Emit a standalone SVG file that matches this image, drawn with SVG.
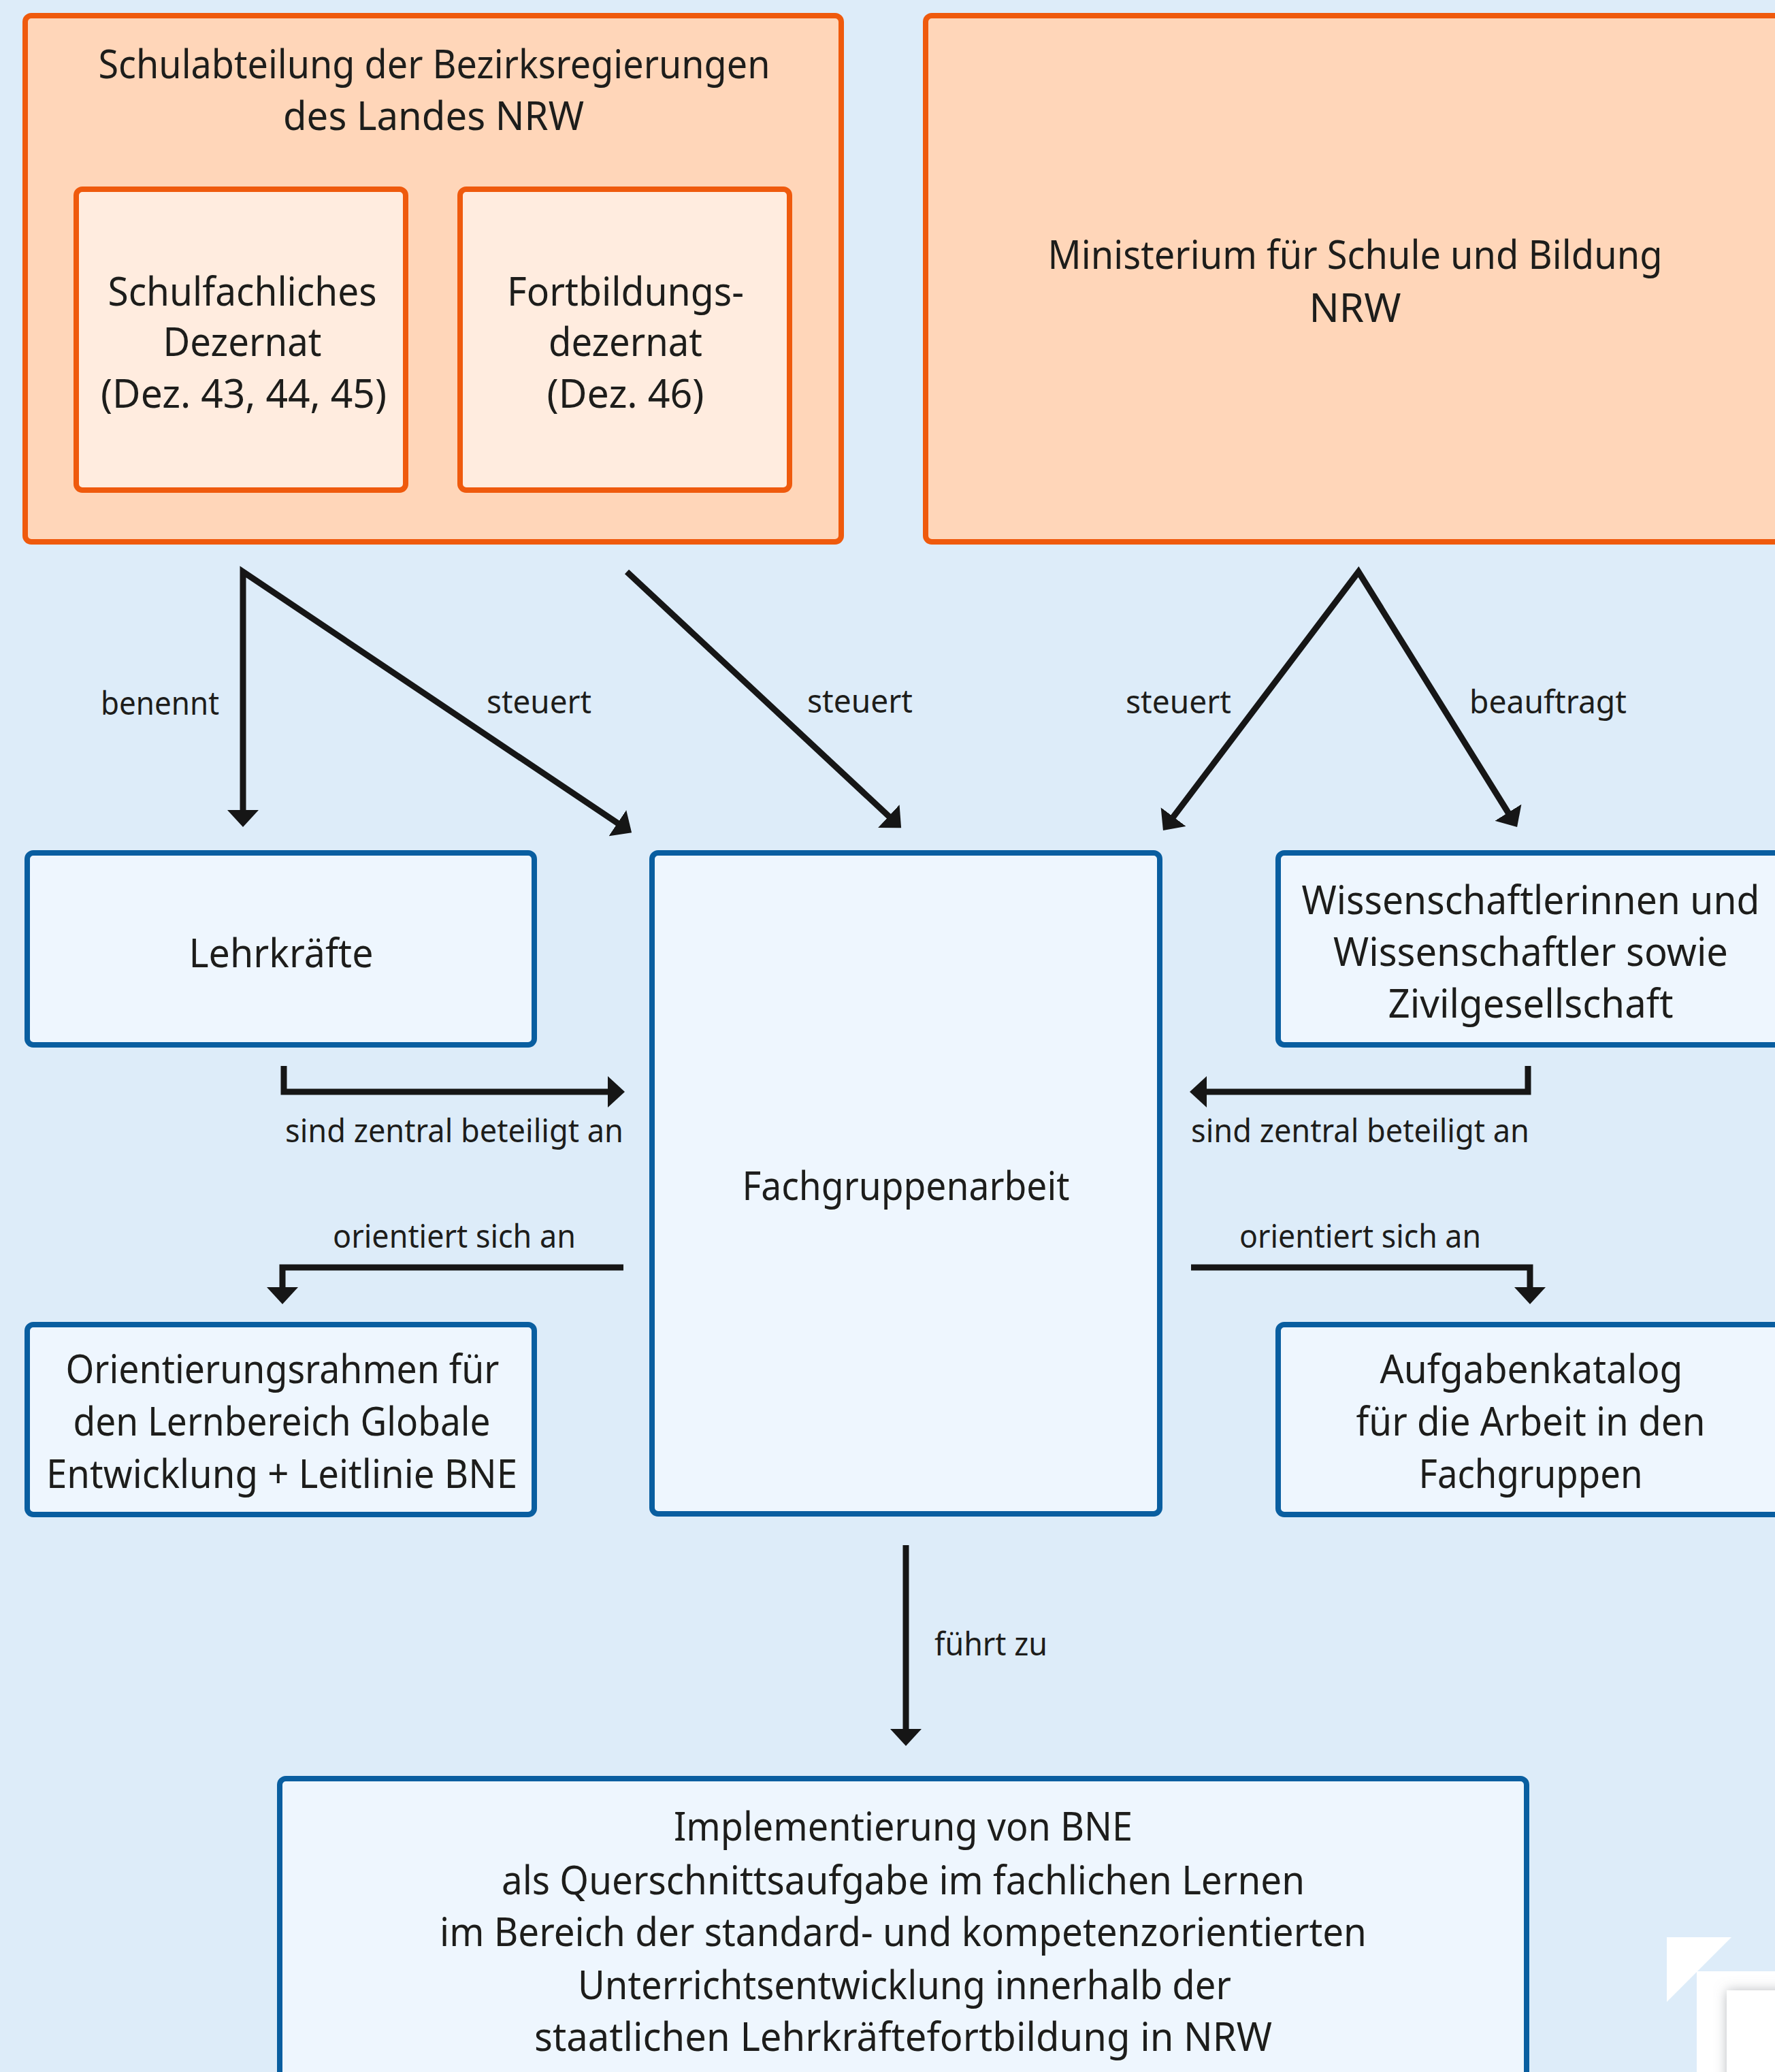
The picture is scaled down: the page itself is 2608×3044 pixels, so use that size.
<svg xmlns="http://www.w3.org/2000/svg" width="2608" height="3044" viewBox="0 0 2608 3044">
<style>
.bg{fill:#ddecf9}
.org{fill:#ffd6b9;stroke:#ef5a0d;stroke-width:8}
.orgi{fill:#ffecdf;stroke:#ef5a0d;stroke-width:8}
.blu{fill:#eef6fe;stroke:#095ea0;stroke-width:8}
.t{font-family:"Noto Sans","Liberation Sans",sans-serif;font-size:58px;fill:#1d1d1b;text-anchor:middle}
.l{font-family:"Noto Sans","Liberation Sans",sans-serif;font-size:47px;fill:#1d1d1b}
.c{fill:none;stroke:#161616;stroke-width:9;stroke-linejoin:miter}
</style>
<defs>
<marker id="ah" viewBox="0 0 25 46" refX="5" refY="23" markerWidth="25" markerHeight="46" markerUnits="userSpaceOnUse" orient="auto-start-reverse">
<path d="M0,0 L25,23 L0,46 Z" fill="#161616"/>
</marker>
<filter id="sh" x="-20%" y="-20%" width="140%" height="140%">
<feDropShadow dx="0" dy="0" stdDeviation="9" flood-color="#8a8f96" flood-opacity="0.6"/>
</filter>
</defs>
<rect class="bg" x="0" y="0" width="2608" height="3044"/>

<g id="schulabteilung">
<rect class="org" x="37" y="23" width="1199" height="773" rx="9"/>
<text class="t" x="638" y="115" textLength="987" lengthAdjust="spacingAndGlyphs">Schulabteilung der Bezirksregierungen</text>
<text class="t" x="637" y="191" textLength="442" lengthAdjust="spacingAndGlyphs">des Landes NRW</text>
</g>
<g id="schulfachliches-dezernat">
<rect class="orgi" x="112" y="278" width="484" height="442" rx="9"/>
<text class="t" x="356" y="449" textLength="395" lengthAdjust="spacingAndGlyphs">Schulfachliches</text>
<text class="t" x="356" y="523" textLength="233" lengthAdjust="spacingAndGlyphs">Dezernat</text>
<text class="t" x="358" y="599" textLength="420" lengthAdjust="spacingAndGlyphs">(Dez. 43, 44, 45)</text>
</g>
<g id="fortbildungsdezernat">
<rect class="orgi" x="676" y="278" width="484" height="442" rx="9"/>
<text class="t" x="919" y="449" textLength="348" lengthAdjust="spacingAndGlyphs">Fortbildungs-</text>
<text class="t" x="919" y="523" textLength="226" lengthAdjust="spacingAndGlyphs">dezernat</text>
<text class="t" x="919" y="599" textLength="231" lengthAdjust="spacingAndGlyphs">(Dez. 46)</text>
</g>
<g id="ministerium">
<rect class="org" x="1360" y="23" width="1260" height="773" rx="9"/>
<text class="t" x="1991" y="395" textLength="903" lengthAdjust="spacingAndGlyphs">Ministerium für Schule und Bildung</text>
<text class="t" x="1991" y="473" textLength="135" lengthAdjust="spacingAndGlyphs">NRW</text>
</g>

<g id="lehrkraefte">
<rect class="blu" x="40" y="1253" width="745" height="282" rx="9"/>
<text class="t" x="413" y="1421" textLength="271" lengthAdjust="spacingAndGlyphs">Lehrkräfte</text>
</g>
<g id="fachgruppenarbeit">
<rect class="blu" x="958" y="1253" width="746" height="971" rx="9"/>
<text class="t" x="1331" y="1763" textLength="481" lengthAdjust="spacingAndGlyphs">Fachgruppenarbeit</text>
</g>
<g id="wissenschaft">
<rect class="blu" x="1878" y="1253" width="745" height="282" rx="9"/>
<text class="t" x="2249" y="1343" textLength="673" lengthAdjust="spacingAndGlyphs">Wissenschaftlerinnen und</text>
<text class="t" x="2249" y="1419" textLength="580" lengthAdjust="spacingAndGlyphs">Wissenschaftler sowie</text>
<text class="t" x="2249" y="1495" textLength="419" lengthAdjust="spacingAndGlyphs">Zivilgesellschaft</text>
</g>
<g id="orientierungsrahmen">
<rect class="blu" x="40" y="1946" width="745" height="279" rx="9"/>
<text class="t" x="415" y="2032" textLength="637" lengthAdjust="spacingAndGlyphs">Orientierungsrahmen für</text>
<text class="t" x="414" y="2109" textLength="613" lengthAdjust="spacingAndGlyphs">den Lernbereich Globale</text>
<text class="t" x="414" y="2186" textLength="692" lengthAdjust="spacingAndGlyphs">Entwicklung + Leitlinie BNE</text>
</g>
<g id="aufgabenkatalog">
<rect class="blu" x="1878" y="1946" width="745" height="279" rx="9"/>
<text class="t" x="2250" y="2032" textLength="445" lengthAdjust="spacingAndGlyphs">Aufgabenkatalog</text>
<text class="t" x="2249" y="2109" textLength="513" lengthAdjust="spacingAndGlyphs">für die Arbeit in den</text>
<text class="t" x="2249" y="2186" textLength="329" lengthAdjust="spacingAndGlyphs">Fachgruppen</text>
</g>
<g id="implementierung">
<rect class="blu" x="411" y="2613" width="1832" height="520" rx="9"/>
<text class="t" x="1327" y="2704" textLength="674" lengthAdjust="spacingAndGlyphs">Implementierung von BNE</text>
<text class="t" x="1327" y="2783" textLength="1180" lengthAdjust="spacingAndGlyphs">als Querschnittsaufgabe im fachlichen Lernen</text>
<text class="t" x="1327" y="2859" textLength="1362" lengthAdjust="spacingAndGlyphs">im Bereich der standard- und kompetenzorientierten</text>
<text class="t" x="1329" y="2937" textLength="960" lengthAdjust="spacingAndGlyphs">Unterrichtsentwicklung innerhalb der</text>
<text class="t" x="1327" y="3013" textLength="1084" lengthAdjust="spacingAndGlyphs">staatlichen Lehrkräftefortbildung in NRW</text>
</g>

<g id="connectors">
<path class="c" d="M357,1195 V840 L911.5,1212" marker-start="url(#ah)" marker-end="url(#ah)"/>
<path class="c" d="M921,840 L1309.5,1202.5" marker-end="url(#ah)"/>
<path class="c" d="M1721,1204 L1996,840 L2218.5,1198" marker-start="url(#ah)" marker-end="url(#ah)"/>
<path class="c" d="M417,1566 V1604 H898" marker-end="url(#ah)"/>
<path class="c" d="M2245,1566 V1604 H1768" marker-end="url(#ah)"/>
<path class="c" d="M916,1862 H415 V1896" marker-end="url(#ah)"/>
<path class="c" d="M1750,1862 H2248 V1896" marker-end="url(#ah)"/>
<path class="c" d="M1331,2270 V2545" marker-end="url(#ah)"/>
<text class="l" x="148" y="1050" textLength="174" lengthAdjust="spacingAndGlyphs">benennt</text>
<text class="l" x="715" y="1048" textLength="154" lengthAdjust="spacingAndGlyphs">steuert</text>
<text class="l" x="1186" y="1047" textLength="155" lengthAdjust="spacingAndGlyphs">steuert</text>
<text class="l" x="1654" y="1048" textLength="155" lengthAdjust="spacingAndGlyphs">steuert</text>
<text class="l" x="2159" y="1048" textLength="231" lengthAdjust="spacingAndGlyphs">beauftragt</text>
<text class="l" x="419" y="1678" textLength="497" lengthAdjust="spacingAndGlyphs">sind zentral beteiligt an</text>
<text class="l" x="1750" y="1678" textLength="497" lengthAdjust="spacingAndGlyphs">sind zentral beteiligt an</text>
<text class="l" x="489" y="1833" textLength="357" lengthAdjust="spacingAndGlyphs">orientiert sich an</text>
<text class="l" x="1821" y="1833" textLength="355" lengthAdjust="spacingAndGlyphs">orientiert sich an</text>
<text class="l" x="1373" y="2432" textLength="166" lengthAdjust="spacingAndGlyphs">führt zu</text>
</g>

<g id="corner">
<polygon points="2449,2846 2544,2846 2449,2941" fill="#ffffff"/>
<rect x="2493" y="2896" width="130" height="160" fill="#ffffff"/>
<rect x="2537" y="2924" width="100" height="140" fill="#ffffff" filter="url(#sh)"/>
</g>
</svg>
